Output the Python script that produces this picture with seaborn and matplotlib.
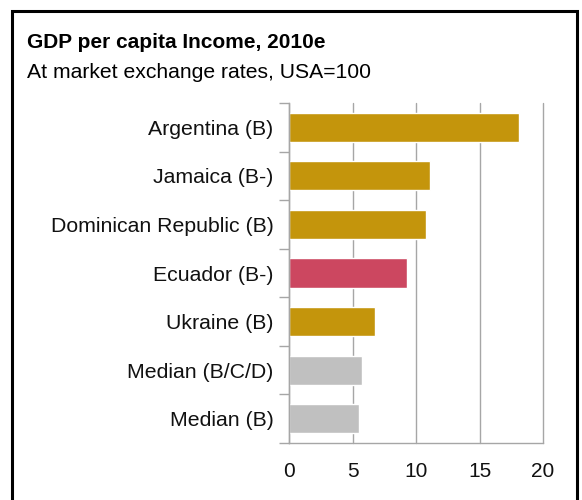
import matplotlib
matplotlib.use("Agg")
import matplotlib.pyplot as plt
import matplotlib.patches as mpatches
import seaborn as sns
import pandas as pd
import numpy as np

countries = ["Argentina (B)", "Jamaica (B-)", "Dominican Republic (B)", "Ecuador (B-)",
             "Ukraine (B)", "Median (B/C/D)", "Median (B)"]
gdp_index = [18.1, 11.1, 10.8, 9.3, 6.8, 5.75, 5.5]
bar_colors = ["#C4950C", "#C4950C", "#C4950C", "#CC4760", "#C4950C", "#C0C0C0", "#C0C0C0"]
x_ticks = [0, 5, 10, 15, 20]

sns.set_theme(style="white")
plt.rcParams["font.family"] = ["Liberation Sans", "DejaVu Sans"]

df = pd.DataFrame({"country": countries, "gdp": gdp_index})

fig = plt.figure(figsize=(5.82, 5.0), dpi=100)
ax = fig.add_axes([289 / 582, 1 - 443 / 500, (543 - 289) / 582, (443 - 103) / 500])

sns.barplot(data=df, x="gdp", y="country", hue="country", palette=bar_colors,
            legend=False, width=0.6, ax=ax, saturation=1)

ax.set_xlim(0, 20)
ax.set_ylim(len(countries) - 0.5, -0.5)
ax.set_xticks(x_ticks)
ax.set_xticklabels([str(t) for t in x_ticks])
ax.set_xlabel("")
ax.set_ylabel("")

# vertical gridlines behind the bars
ax.set_axisbelow(True)
ax.xaxis.grid(True, color="#A6A6A6", linewidth=1.0)
ax.yaxis.grid(False)
for gl in ax.get_xgridlines():
    gl.set_clip_on(False)

for side in ["top", "right"]:
    ax.spines[side].set_visible(False)
for side in ["left", "bottom"]:
    ax.spines[side].set_color("#A6A6A6")
    ax.spines[side].set_linewidth(1.0)

ax.tick_params(axis="x", length=0, pad=14, labelsize=15, labelcolor="#111111")
ax.tick_params(axis="y", which="major", left=False, length=0, pad=11, labelsize=15.3,
               labelcolor="#111111")
# small separators between categories on the left axis
ax.set_yticks(np.arange(-0.5, len(countries) + 0.5, 1.0), minor=True)
ax.tick_params(axis="y", which="minor", left=True, length=7, width=1.0,
               color="#A6A6A6", direction="out")

fig.text(27 / 582, 1 - 42 / 500, "GDP per capita Income, 2010e", fontsize=15,
         fontweight="bold", ha="left", va="center", color="#000000")
fig.text(27 / 582, 1 - 72 / 500, "At market exchange rates, USA=100", fontsize=15.2,
         ha="left", va="center", color="#000000")

# frame around the whole panel
frame = mpatches.Rectangle((12 / 582, -0.05), (577 - 12) / 582, 1.05 - 11 / 500,
                           transform=fig.transFigure, fill=False,
                           edgecolor="black", linewidth=2.2, clip_on=False)
fig.patches.append(frame)

fig.savefig("out.png", dpi=100)
